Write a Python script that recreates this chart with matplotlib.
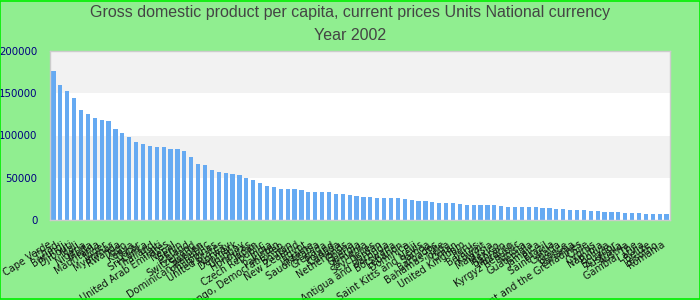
import matplotlib
matplotlib.use("Agg")
import matplotlib.pyplot as plt
from matplotlib.patches import Rectangle

title_line1 = "Gross domestic product per capita, current prices Units National currency"
title_line2 = "Year 2002"

countries = [
    "Cape Verde", "Chad", "Burundi", "Djibouti", "Mali", "Nigeria", "Malta", "Mauritania",
    "Niger", "Myanmar", "Rwanda", "Togo", "Kenya", "Qatar", "Sri Lanka", "Thailand",
    "Haiti", "United Arab Emirates", "Nepal", "Benin", "Iceland", "Switzerland", "Sweden",
    "Dominican Republic", "Philippines", "United States", "Norway", "Denmark", "Uruguay",
    "Honduras", "Japan", "Czech Republic", "India", "Pakistan", "Congo, Democratic Rep.",
    "Bhutan", "New Zealand", "Egypt", "Ukraine", "Saudi Arabia", "Grenada", "Poland",
    "Canada", "Netherlands", "Ghana", "Georgia", "Armenia", "Seychelles", "Jordan",
    "Antigua and Barbuda", "Botswana", "Lebanon", "Dominica", "Fiji",
    "Saint Kitts and Nevis", "Samoa", "Barbados", "Bahamas, The", "Tonga", "Oman",
    "United Kingdom", "Peru", "Belarus", "Kuwait", "Malaysia", "Mexico", "Bahrain",
    "Morocco", "Kyrgyz Republic", "Tunisia", "Guatemala", "Jamaica", "Brazil",
    "Saint Lucia", "Croatia", "Greece", "Panama", "Saint Vincent and the Grenadines",
    "Chile", "Cyprus", "Namibia", "Bolivia", "Ecuador", "Australia", "Austria",
    "Gambia, The", "Latvia", "Belize", "Lesotho", "Romania",
]

gdp_values = [
    176000, 160000, 153000, 144000, 130000, 125500, 120500, 118500, 117000, 107500,
    103000, 98000, 92500, 90000, 87500, 86500, 86500, 84000, 84000, 81500,
    74500, 66500, 65000,
    59000, 57000, 55500, 54500, 53000, 49500, 47500, 44000, 40000, 39000,
    36500, 36500, 36500, 35500, 33000, 33000, 33000, 33000, 31000, 31000, 29500,
    28500, 27000, 27000, 26000, 26000, 26000, 26000, 25000, 23500, 22500, 22500,
    21500, 20000, 20000, 20000, 19000, 17800, 17800, 17800, 17800, 17800, 16500,
    15400, 15400, 15400, 15400, 15400, 14200, 14200, 13000, 13000,
    11800, 11800, 11800, 10700, 10700, 9500, 9500, 9500, 8300, 8300, 8300,
    7100, 7100, 7100, 7100,
]

y_ticks = [0, 50000, 100000, 150000, 200000]

fig = plt.figure(figsize=(7, 3), dpi=100)
fig.patch.set_facecolor("#90ee90")
fig.patches.append(Rectangle((0.0007, 0.0017), 0.9986, 0.9966, transform=fig.transFigure,
                             fill=False, edgecolor="#00ee00", linewidth=1.2))

ax = fig.add_axes([50 / 700, 80 / 300, 620 / 700, 169 / 300])
ax.set_facecolor("white")

# alternating bands
for i in range(len(y_ticks) - 1):
    if i % 2 == 1:
        ax.axhspan(y_ticks[i], y_ticks[i + 1], color="#f2f2f2", zorder=0, lw=0)

x = list(range(len(countries)))
ax.bar(x, gdp_values, width=0.62, color="#66aaf2", zorder=2)

ax.set_xlim(-0.5, len(countries) - 0.5)
ax.set_ylim(0, 200000)
ax.set_yticks(y_ticks)
ax.set_yticklabels([str(v) for v in y_ticks], fontsize=7.4, color="#000080",
                   family="DejaVu Sans")
ax.tick_params(axis="y", length=0, pad=9)
ax.set_xticks(x)
ax.set_xticklabels(countries, rotation=33, ha="right", va="top", fontsize=6.9,
                   color="#111111", family="DejaVu Sans")
ax.tick_params(axis="x", length=0, pad=14)

for sp in ax.spines.values():
    sp.set_color("#cccccc")
    sp.set_linewidth(1)

fig.text(0.5, 1 - 13 / 300, title_line1, ha="center", va="center", fontsize=11.5,
         color="#444444", family="Liberation Sans")
fig.text(0.5, 1 - 36 / 300, title_line2, ha="center", va="center", fontsize=11.5,
         color="#444444", family="Liberation Sans")

fig.savefig("out.png", dpi=100, facecolor=fig.get_facecolor())
